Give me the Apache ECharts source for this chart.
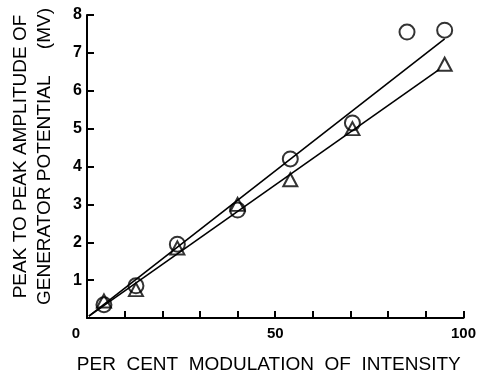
<!DOCTYPE html>
<html>
<head>
<meta charset="utf-8">
<script src="https://cdn.jsdelivr.net/npm/echarts@6/dist/echarts.min.js"></script>
<style>
  html, body { margin: 0; padding: 0; background: #fff; }
  #chart { width: 479px; height: 379px; }
</style>
</head>
<body>
<div id="chart"></div>
<script>
// Percent modulation of stimulus intensity (x) vs peak-to-peak generator potential (mV)
const circleX = [4.5, 13, 24, 40, 54, 70.5, 85, 95];
const circleY = [0.35, 0.85, 1.95, 2.85, 4.2, 5.15, 7.55, 7.6];
const triangleX = [4.5, 13, 24, 40, 54, 70.5, 95];
const triangleY = [0.45, 0.75, 1.85, 3.0, 3.65, 5.0, 6.7];

// Fitted straight lines (start / end points)
const circleFitX = [0.5, 95];
const circleFitY = [0.05, 7.37];
const triangleFitX = [0.5, 93.5];
const triangleFitY = [0.05, 6.56];

const xTickLabels = { 0: '0', 50: '50', 100: '100' };
const yTickLabels = ['', '1', '2', '3', '4', '5', '6', '7', '8'];

const pairs = (xs, ys) => xs.map((x, i) => [x, ys[i]]);
const FONT = 'Liberation Sans';

const chart = echarts.init(document.getElementById('chart'), null, { renderer: 'canvas' });
chart.setOption({
  animation: false,
  backgroundColor: '#ffffff',
  grid: { left: 87, right: 11, top: 15, bottom: 57, containLabel: false },
  xAxis: {
    type: 'value',
    min: 0, max: 100, interval: 10,
    splitLine: { show: false },
    axisLine: { show: true, onZero: false, lineStyle: { color: '#000', width: 2 } },
    axisTick: { show: true, inside: true, length: 7, lineStyle: { color: '#000', width: 2 } },
    axisLabel: {
      show: true, margin: 8, interval: 0, showMinLabel: true, showMaxLabel: true,
      color: '#000', fontFamily: FONT, fontSize: 15, fontWeight: 'bold',
      formatter: v => (v === 0 ? '{z|0}' : (xTickLabels[v] || '')),
      rich: { z: { fontFamily: FONT, fontSize: 15, fontWeight: 'bold', color: '#000', padding: [0, 22, 0, 0] } }
    },
    name: 'PER  CENT  MODULATION  OF  INTENSITY',
    nameLocation: 'middle',
    nameGap: 37,
    nameTextStyle: { color: '#000', fontFamily: FONT, fontSize: 19, padding: [0, 13, 0, 0] }
  },
  yAxis: {
    type: 'value',
    min: 0, max: 8, interval: 1,
    splitLine: { show: false },
    axisLine: { show: true, onZero: false, lineStyle: { color: '#000', width: 2 } },
    axisTick: { show: true, inside: true, length: 7, lineStyle: { color: '#000', width: 2 } },
    axisLabel: {
      show: true, margin: 5,
      color: '#000', fontFamily: FONT, fontSize: 16, fontWeight: 'bold',
      formatter: v => yTickLabels[Math.round(v)] || ''
    },
    name: 'PEAK TO PEAK AMPLITUDE OF\nGENERATOR POTENTIAL     (MV)',
    nameLocation: 'middle',
    nameRotate: 90,
    nameGap: 30,
    nameTextStyle: { color: '#000', fontFamily: FONT, fontSize: 19, lineHeight: 24, padding: [0, 0, 0, 20] }
  },
  series: [
    {
      type: 'line', data: pairs(circleFitX, circleFitY), showSymbol: false, silent: true,
      lineStyle: { color: '#000', width: 1.6 }, z: 2
    },
    {
      type: 'line', data: pairs(triangleFitX, triangleFitY), showSymbol: false, silent: true,
      lineStyle: { color: '#000', width: 1.6 }, z: 2
    },
    {
      type: 'scatter', data: pairs(circleX, circleY), symbol: 'circle', symbolSize: 15,
      itemStyle: { color: 'rgba(0,0,0,0)', borderColor: '#000', borderWidth: 2 }, z: 3
    },
    {
      type: 'scatter', data: pairs(triangleX, triangleY), symbol: 'triangle', symbolSize: [14, 13],
      itemStyle: { color: 'rgba(0,0,0,0)', borderColor: '#000', borderWidth: 2 }, z: 3
    }
  ]
});
</script>
</body>
</html>
